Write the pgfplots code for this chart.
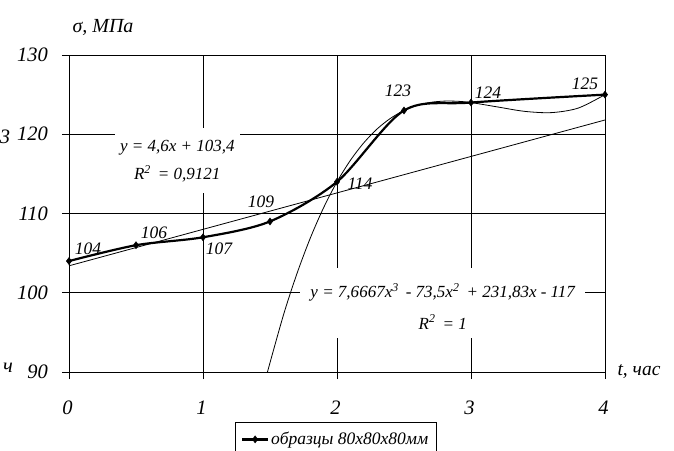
\documentclass[border=0pt]{standalone}
\usepackage{fontspec}
\setmainfont{Liberation Serif}
\usepackage{pgfplots}
\pgfplotsset{compat=1.18}
\tikzset{
  ytl/.style={font=\fontsize{20.5}{20.5}\selectfont\itshape, inner sep=0pt, anchor=east, xshift=-21pt},
  xtl/.style={font=\fontsize{20.5}{20.5}\selectfont\itshape, inner sep=0pt, xshift=-1.5pt, yshift=-36pt},
  dl/.style={font=\itshape\fontsize{17.5}{17.5}\selectfont},
  eq/.style={font=\itshape\fontsize{17}{17}\selectfont},
}
\begin{document}
\begin{tikzpicture}
\begin{axis}[
  scale only axis, width=536pt, height=317pt,
  at={(0pt,0pt)}, anchor=south west,
  xmin=0, xmax=4, ymin=90, ymax=130,
  xtick={0,1,2,3,4}, ytick={90,100,110,120,130},
  xticklabels={}, yticklabels={},
  grid=major, major grid style={black, line width=0.7pt},
  axis line style={black, line width=0.9pt},
  tick style={black, line width=0.9pt},
  tick align=outside, major tick length=7pt,
  tick pos=left,
  clip=false,
  legend style={at={(rel axis cs:0.309,-0.1577)}, anchor=north west,
    draw=black, line width=0.8pt, fill=white,
    font=\itshape\fontsize{17.5}{17.5}\selectfont,
    inner xsep=6pt, inner ysep=8pt, legend cell align=left},
  legend image code/.code={\draw[mark repeat=2,mark phase=2,#1] plot coordinates {(0pt,0pt) (13pt,0pt) (26pt,0pt)};},
]
% tick labels (italic)
\node[ytl] at (axis cs:0,90) {\textit{90}};
\node[ytl] at (axis cs:0,100) {\textit{100}};
\node[ytl] at (axis cs:0,110) {\textit{110}};
\node[ytl] at (axis cs:0,120) {\textit{120}};
\node[ytl] at (axis cs:0,130) {\textit{130}};
\node[xtl] at (axis cs:0,90) {\textit{0}};
\node[xtl] at (axis cs:1,90) {\textit{1}};
\node[xtl] at (axis cs:2,90) {\textit{2}};
\node[xtl] at (axis cs:3,90) {\textit{3}};
\node[xtl] at (axis cs:4,90) {\textit{4}};
% equation boxes
\node[fill=white, minimum width=125pt, minimum height=65pt, inner sep=0pt] (b1) at (axis cs:0.808,116.7) {};
\node[eq] at ([yshift=12.5pt]b1.center) {y = 4,6x + 103,4};
\node[eq] at ([yshift=-13.5pt]b1.center) {R\textsuperscript{2}\, = 0,9121};
\node[fill=white, minimum width=285pt, minimum height=70pt, inner sep=0pt] (b2) at (axis cs:2.789,98.7) {};
\node[eq] at ([yshift=11pt]b2.center) {y = 7,6667x\textsuperscript{3}\, - 73,5x\textsuperscript{2}\, + 231,83x - 117};
\node[eq] at ([yshift=-19pt]b2.center) {R\textsuperscript{2}\, = 1};
% linear trend
\addplot[black, line width=0.8pt, forget plot] coordinates {(0,103.4) (4,121.8)};
% cubic trend
\addplot[black, line width=0.8pt, smooth, forget plot] coordinates {
(1.481,90) (1.6,97.17) (1.7,102.36) (1.8,106.87) (1.9,110.73) (2.0,114.0)
(2.1,116.71) (2.2,118.92) (2.3,120.68) (2.4,122.02) (2.5,122.99) (2.6,123.65)
(2.7,124.03) (2.8,124.18) (2.9,124.16) (3.0,124.0) (3.2,123.44) (3.4,122.89)
(3.6,122.73) (3.8,123.30) (4.0,125.0)};
% main series
\addplot[black, line width=2.2pt, smooth, tension=0.5, mark=diamond*, mark size=3.5pt, mark options={line width=0.5pt}] coordinates {
(0,104) (0.5,106) (1,107) (1.5,109) (2,114) (2.5,123) (3,124) (4,125)};
\addlegendentry{образцы 80x80x80мм}
% data labels
\node[dl] at (axis cs:0,104) [xshift=19pt, yshift=12pt] {104};
\node[dl] at (axis cs:0.5,106) [xshift=18pt, yshift=12pt] {106};
\node[dl] at (axis cs:1,107) [xshift=16pt, yshift=-11pt] {107};
\node[dl] at (axis cs:1.5,109) [xshift=-9pt, yshift=20pt] {109};
\node[dl] at (axis cs:2,114) [xshift=23pt, yshift=-2pt] {114};
\node[dl] at (axis cs:2.5,123) [xshift=-6pt, yshift=20pt] {123};
\node[dl] at (axis cs:3,124) [xshift=17pt, yshift=10pt] {124};
\node[dl] at (axis cs:4,125) [xshift=-20pt, yshift=11pt] {125};
\end{axis}
% axis titles and stray fragments (tikz pt coordinates: px-69, 372-py)
\node[font=\itshape\fontsize{20}{20}\selectfont] at (34pt,345pt) {σ, МПа};
\node[font=\itshape\fontsize{19.5}{19.5}\selectfont, anchor=west] at (545pt,0pt) {t, час};
\node[font=\itshape\fontsize{20.5}{20.5}\selectfont] at (-64pt,235pt) {3};
\node[font=\itshape\fontsize{20.5}{20.5}\selectfont] at (-61pt,4pt) {ч};
\pgfresetboundingbox
\useasboundingbox (-69pt,-78pt) rectangle (605pt,372pt);
\end{tikzpicture}
\end{document}
